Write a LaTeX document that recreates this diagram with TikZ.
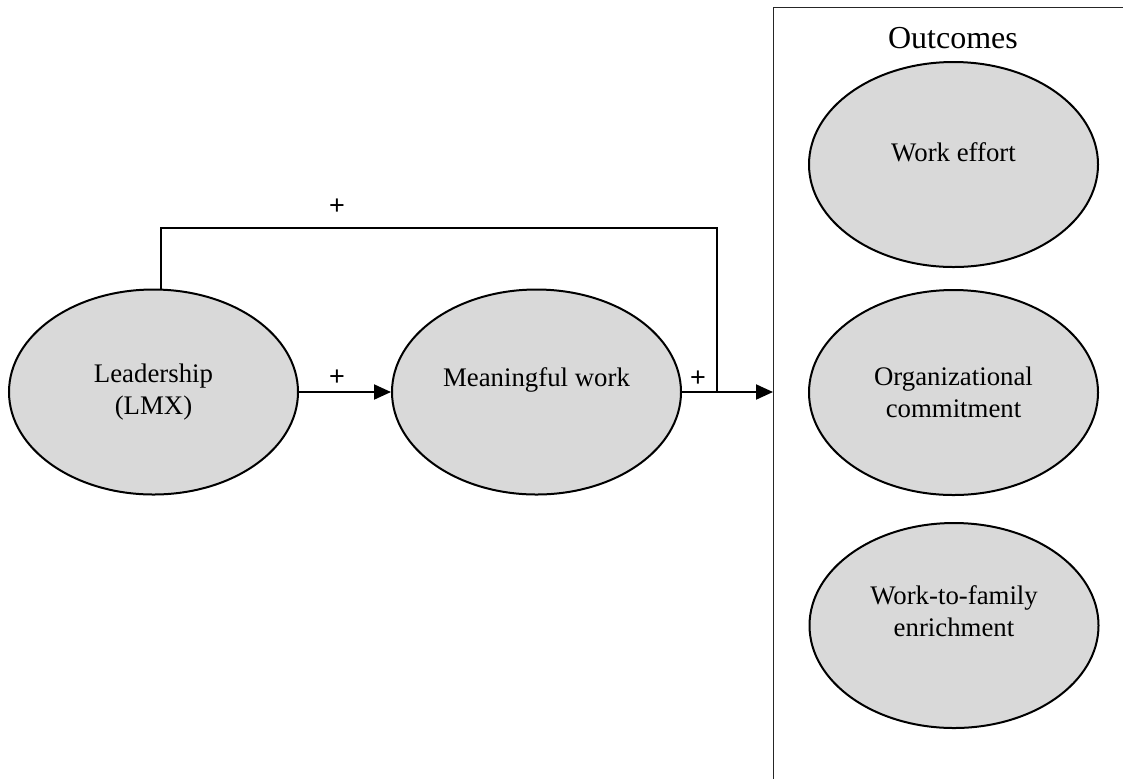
\documentclass[tikz,border=0pt]{standalone}
\usepackage{fontspec}
\setmainfont{Liberation Serif}
\newfontfamily\plusfont{Liberation Sans}
\usetikzlibrary{shapes.geometric,arrows.meta}
\definecolor{ovalfill}{HTML}{D9D9D9}
\tikzset{
  oval/.style={ellipse, draw, line width=1pt, fill=ovalfill,
    minimum width=144.5pt, minimum height=102.5pt, inner sep=0pt,
    align=center, font=\fontsize{13.4}{16}\selectfont},
  txt/.style={align=center, font=\fontsize{13.4}{16}\selectfont, inner sep=0pt},
  conn/.style={line width=1pt},
  arr/.style={line width=1pt, -{Triangle[length=8.5pt,width=7.5pt]}},
  plus/.style={font=\plusfont\fontsize{13.5}{15}\selectfont, inner sep=0pt},
  outbox/.style={draw=black!85, line width=0.6pt, rectangle, anchor=north west,
    minimum width=400pt, minimum height=420pt, inner sep=0pt}
}
\begin{document}
\begin{tikzpicture}[x=0.5pt,y=-0.5pt]
\useasboundingbox (0,0) rectangle (1123,778);
\clip (0,0) rectangle (1123,778);
\fill[white] (0,0) rectangle (1123,778);
% outcomes box
\node[outbox] (box) at (773,7) {};
\node[font=\fontsize{16}{18}\selectfont, anchor=base, inner sep=0pt] (outt) at (953,48) {Outcomes};
% ellipses
\node[oval] (lead) at (153.5,392) {Leadership\\(LMX)};
\node[oval] (mean) at (536.5,392) {};
\node[txt] (meant) at (536.5,380) {Meaningful work};
\node[oval] (eff) at (953.5,164.5) {};
\node[txt] (efft) at (953.5,152) {Work effort};
\node[oval] (com) at (953.5,392.5) {Organizational\\commitment};
\node[oval] (wfe) at (954,625.5) {};
\node[txt] (wfet) at (954,611.5) {Work-to-family\\enrichment};
% connectors
\coordinate (tr) at (717,228);
\coordinate (j) at (717,392);
\draw[arr] (lead.east) -- (mean.west);
\draw[arr] (mean.east) -- (mean.east -| box.west);
\draw[conn] ([xshift=3.75pt]lead.north) |- (tr) -- (j);
% labels
\node[plus] (p1) at (337,207) {+};
\node[plus] (p2) at (337,378) {+};
\node[plus] (p3) at (698,379) {+};
\end{tikzpicture}
\end{document}
